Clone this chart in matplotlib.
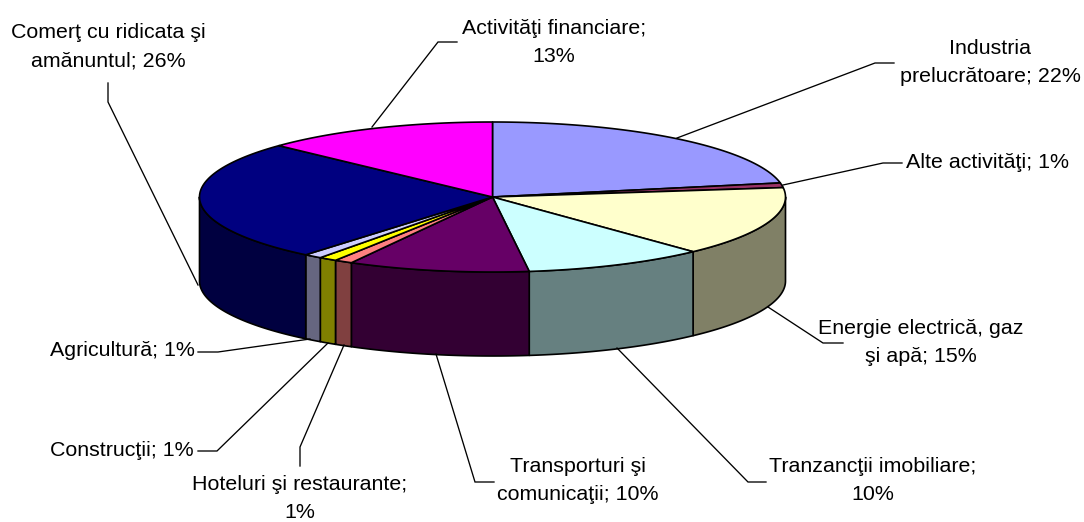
import numpy as np
import matplotlib
matplotlib.use("Agg")
import matplotlib.pyplot as plt
from matplotlib.patches import Polygon

plt.rcParams["font.family"] = ["Liberation Sans", "DejaVu Sans"]

# data, clockwise from 12 o'clock
categories = ["Industria\nprelucrătoare", "Alte activităţi", "Energie electrică, gaz\nşi apă",
              "Tranzancţii imobiliare", "Transporturi şi\ncomunicaţii", "Hoteluri şi restaurante",
              "Construcţii", "Agricultură", "Comerţ cu ridicata şi\namănuntul", "Activităţi financiare"]
values = [22, 1, 15, 10, 10, 1, 1, 1, 26, 13]
label_texts = ["Industria\nprelucrătoare; 22%", "Alte activităţi; 1%", "Energie electrică, gaz\nşi apă; 15%",
               "Tranzancţii imobiliare;\n10%", "Transporturi şi\ncomunicaţii; 10%",
               "Hoteluri şi restaurante;\n1%", "Construcţii; 1%", "Agricultură; 1%",
               "Comerţ cu ridicata şi\namănuntul; 26%", "Activităţi financiare;\n13%"]

top_colors = ["#9999FF", "#993366", "#FFFFCC", "#CCFFFF", "#660066",
              "#FF8080", "#FFFF00", "#CCCCFF", "#000080", "#FF00FF"]
side_colors = ["#666680", "#662244", "#808066", "#668080", "#330033",
               "#804040", "#808000", "#666680", "#000040", "#800080"]

# layout in pixels
cx, cy = 492.5, 197
rx, ry = 293, 75
depth = 84

label_pos = [(990, 63), (987, 163), (921, 343), (873, 480), (578, 480),
             (300, 498), (122, 451), (122, 351), (108, 47), (554, 42)]
leaders = [
    [(677, 138), (875, 63), (894, 63)],
    [(783, 185), (883, 163), (902, 163)],
    [(768, 307), (823, 343), (843, 343)],
    [(617, 348), (748, 482), (766, 482)],
    [(436, 354), (475, 482), (494, 482)],
    [(344, 345), (300, 447), (300, 466)],
    [(328, 343), (217, 451), (198, 451)],
    [(310, 339), (218, 352), (198, 352)],
    [(198, 285), (108, 102), (108, 83)],
    [(372, 127), (438, 42), (457, 42)],
]


def arc(a0, a1, dy=0):
    t = np.radians(np.linspace(a0, a1, 80))
    return np.column_stack([cx + rx * np.sin(t), cy + dy - ry * np.cos(t)])


fig = plt.figure(figsize=(10.84, 5.22), dpi=100)
ax = fig.add_axes([0, 0, 1, 1])
ax.set_xlim(0, 1084)
ax.set_ylim(522, 0)
ax.axis("off")

edges = np.cumsum([0] + values) / sum(values) * 360

# side wall, only the front half of the rim shows
for i in range(len(values)):
    a0 = max(edges[i], 90)
    a1 = min(edges[i + 1], 270)
    if a1 <= a0:
        continue
    pts = np.vstack([arc(a0, a1), arc(a0, a1, depth)[::-1]])
    ax.add_patch(Polygon(pts, closed=True, fc=side_colors[i], ec="black", lw=1.2, joinstyle="round"))

# top face
for i in range(len(values)):
    pts = np.vstack([[(cx, cy)], arc(edges[i], edges[i + 1])])
    ax.add_patch(Polygon(pts, closed=True, fc=top_colors[i], ec="black", lw=1.2, joinstyle="round"))

for line in leaders:
    xs, ys = zip(*line)
    ax.plot(xs, ys, color="black", lw=0.95, solid_joinstyle="miter")

for txt, (x, y) in zip(label_texts, label_pos):
    ax.text(x, y, txt, ha="center", va="center", fontsize=15.4, color="black", linespacing=1.6)

fig.savefig("out.png", dpi=100, facecolor="white")
